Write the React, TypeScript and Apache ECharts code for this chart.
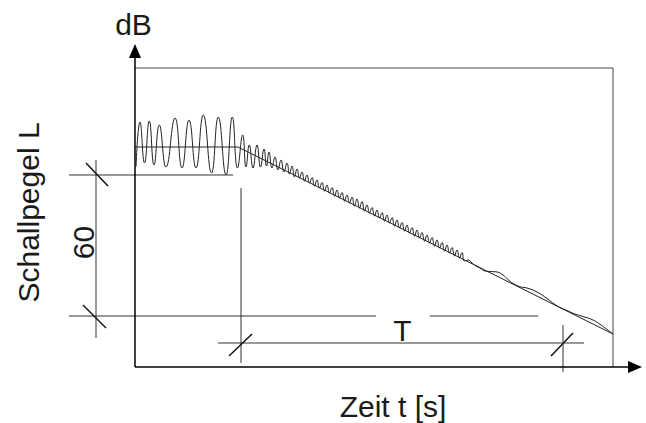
import React, { useEffect, useRef } from "react";
import * as echarts from "echarts";

// Schematic reverberation-time diagram. Units: t (horizontal, arbitrary), L (vertical, arbitrary)
const T_MIN = -75;
const T_MAX = 500;
const L_MAX = 316;

// axes (origin -> arrow end)
const timeAxis = [[0, 0], [500, 0]];
const levelAxis = [[0, 0], [0, 316]];

// frame of the measurement window
const boxLine = [[0, 299], [478, 299], [478, 0]];

// steady level + linear decay (regression line)
const decayLine = [[0, 220], [103, 220], [478, 33]];

// measured level trace (oscillating)
const levelTrace = [
  [1, 200],
  [5, 245], [9.5, 204], [14.3, 246], [19, 202], [24.3, 242], [31, 200], [40, 249], [47, 199],
  [54, 247], [61, 199], [68.3, 252], [76.5, 194], [83.3, 250], [91, 192], [97.3, 250], [102.5, 199],
  [107.7, 232], [111, 200], [114.3, 222], [118, 199], [122, 222], [125.5, 200], [129, 218], [131.5, 201],
  [134, 215], [137, 199], [140, 210], [143, 197], [146, 207], [149, 195], [152, 204], [154.5, 193],
  [157, 201], [159.5, 190], [162, 198], [164.5, 189], [167, 195], [169.5, 186],
  [172, 192], [174.5, 184], [177, 189.5], [179.5, 181], [182, 187], [184.5, 179], [187, 184.5], [189.5, 176],
  [192, 182], [194.5, 174], [197, 179.5], [199.5, 171], [202, 177], [204.5, 169], [207, 174.5], [209.5, 166],
  [212, 172], [214.5, 164], [217, 170], [219.5, 161], [222, 168], [224.5, 159], [227, 165.5], [229.5, 156],
  [232, 162], [234.5, 154], [237, 159.5], [239.5, 151], [242, 157], [244.5, 149], [247, 154.5], [249.5, 146],
  [252, 152], [254.5, 144], [257, 149.5], [259.5, 141], [262, 147], [264.5, 139], [267, 144.5], [269.5, 136],
  [272, 142], [274.5, 134], [277, 139.5], [279.5, 131], [282, 137], [284.5, 129], [287, 134.5], [289.5, 126],
  [292, 132], [294.5, 124], [297, 129.5], [299.5, 121], [302, 127], [304.5, 119], [307, 124.5], [309.5, 116],
  [312, 122], [314.5, 114], [317, 119.5], [319.5, 111], [322, 117], [324.5, 109], [327, 114.5], [329.5, 106],
  [333, 107], [337, 104], [341, 101], [345, 99], [350, 96], [356, 95.5], [362, 95], [368, 92],
  [374, 86.5], [380, 82.5], [386, 80], [392, 79], [402, 75], [412, 68.5], [420, 62.5], [426, 59],
  [432, 56.5], [440, 53], [448, 50.5], [458, 47], [466, 42], [472, 37.5], [478, 33],
];

// dimension / reference lines
const refTop = [[-66, 192], [98, 192]];
const refBottomA = [[-66, 51], [241, 51]];
const refBottomB = [[295, 51], [403, 51]];
const dim60 = [[-39, 207], [-39, 29]];
const tick60Top = [[-49, 204], [-27, 181]];
const tick60Bottom = [[-52, 62], [-29, 39]];
const startLine = [[106, 179], [106, 4]];
const dimT = [[83, 24], [449, 24]];
const tickTStart = [[94, 11], [117, 33]];
const tickTEnd = [[416, 11], [438, 34]];
const endLine = [[428, 42], [428, -5]];

const FONT = "Liberation Sans, Arial, Helvetica, sans-serif";

function seg(data: number[][], color: string, width: number, smooth: any = false, extra: any = {}) {
  return {
    type: "line",
    data,
    clip: false,
    symbol: "none",
    showSymbol: false,
    silent: true,
    smooth,
    lineStyle: { color, width },
    z: 3,
    ...extra,
  };
}

const pt = (p: number[]) => ({ coord: p });

export default function App() {
  const ref = useRef<HTMLDivElement>(null);
  useEffect(() => {
    if (!ref.current) return;
    const chart = echarts.init(ref.current, undefined, { renderer: "svg" });
    const axisCommon = {
      type: "value",
      axisTick: { show: false },
      axisLabel: { show: false },
      splitLine: { show: false },
      axisLine: { show: false },
    };
    chart.setOption({
      animation: false,
      backgroundColor: "#fff",
      grid: { left: 60, right: 11, top: 51, bottom: 56, containLabel: false, outerBoundsMode: "none" },
      xAxis: { ...axisCommon, min: T_MIN, max: T_MAX },
      yAxis: { ...axisCommon, min: 0, max: L_MAX },
      series: [
        seg(boxLine, "#444", 1, false, {
          markLine: {
            silent: true,
            symbol: ["none", "triangle"],
            symbolSize: [12, 14],
            label: { show: false },
            lineStyle: { color: "#000", width: 1.5, type: "solid" },
            emphasis: { disabled: true },
            data: [
              [pt(timeAxis[0]), pt(timeAxis[1])],
              [pt(levelAxis[0]), pt(levelAxis[1])],
            ],
          },
        }),
        seg(decayLine, "#222", 1),
        seg(levelTrace, "#222", 1, 0.5),
        seg(refTop, "#333", 1),
        seg(refBottomA, "#333", 1),
        seg(refBottomB, "#333", 1),
        seg(dim60, "#333", 1),
        seg(tick60Top, "#111", 1.5),
        seg(tick60Bottom, "#111", 1.5),
        seg(startLine, "#333", 1),
        seg(dimT, "#333", 1),
        seg(tickTStart, "#111", 1.5),
        seg(tickTEnd, "#111", 1.5),
        seg(endLine, "#333", 1),
      ],
      graphic: [
        { type: "text", x: 133.5, y: 24.5, style: { text: "dB", font: `30px ${FONT}`, fill: "#1a1a1a", align: "center", verticalAlign: "middle" } },
        { type: "text", x: 393, y: 406, style: { text: "Zeit t [s]", font: `30px ${FONT}`, fill: "#1a1a1a", align: "center", verticalAlign: "middle" } },
        { type: "text", x: 402.5, y: 330.5, style: { text: "T", font: `30px ${FONT}`, fill: "#1a1a1a", align: "center", verticalAlign: "middle" } },
        { type: "text", x: 28, y: 212.5, rotation: Math.PI / 2, style: { text: "Schallpegel L", font: `30px ${FONT}`, fill: "#1a1a1a", align: "center", verticalAlign: "middle" } },
        { type: "text", x: 83, y: 242.5, rotation: Math.PI / 2, style: { text: "60", font: `30px ${FONT}`, fill: "#1a1a1a", align: "center", verticalAlign: "middle" } },
      ],
    });
    return () => chart.dispose();
  }, []);
  return (
    <div
      ref={ref}
      style={{ position: "fixed", left: 0, top: 0, width: 646, height: 423, background: "#fff" }}
    />
  );
}
